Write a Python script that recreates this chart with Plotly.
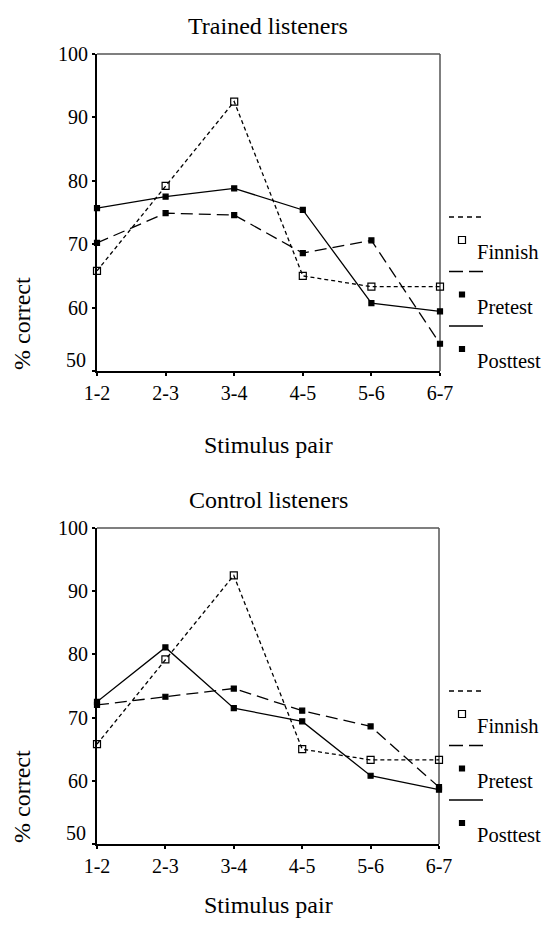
import plotly.graph_objects as go

# ---------------- data ----------------
pairs = ["1-2", "2-3", "3-4", "4-5", "5-6", "6-7"]
y_ticks = [50, 60, 70, 80, 90, 100]

trained_finnish = [65.8, 79.2, 92.5, 65.0, 63.3, 63.3]
trained_pretest = [70.2, 74.9, 74.6, 68.6, 70.6, 54.3]
trained_posttest = [75.7, 77.5, 78.8, 75.4, 60.7, 59.4]

control_finnish = [65.8, 79.2, 92.5, 65.0, 63.3, 63.3]
control_pretest = [72.0, 73.3, 74.6, 71.1, 68.6, 59.0]
control_posttest = [72.5, 81.1, 71.5, 69.4, 60.8, 58.6]

series_names = ["Finnish", "Pretest", "Posttest"]
panel_titles = ["Trained listeners", "Control listeners"]

W, H = 545, 926
FONT = "Liberation Serif"


def px(x):
    return x / W


def py(y):
    return 1 - y / H


fig = go.Figure()

styles = {
    "Finnish": dict(dash="4px,3px", leg_dash="5px,4px", symbol="square-open", msize=7),
    "Pretest": dict(dash="12px,6px", leg_dash="14px,6px", symbol="square", msize=5),
    "Posttest": dict(dash="solid", leg_dash="solid", symbol="square", msize=5),
}

panels = [
    ("x", "y", [trained_finnish, trained_pretest, trained_posttest]),
    ("x2", "y2", [control_finnish, control_pretest, control_posttest]),
]

for xa, ya, data in panels:
    for name, vals in zip(series_names, data):
        st = styles[name]
        fig.add_trace(go.Scatter(
            x=pairs, y=vals, xaxis=xa, yaxis=ya, mode="lines+markers",
            name=name, showlegend=False, cliponaxis=False,
            line=dict(color="black", width=1.3, dash=st["dash"]),
            marker=dict(symbol=st["symbol"], size=st["msize"], color="black",
                        line=dict(color="black", width=1.2)),
        ))

# plot areas in pixels: (left, right, top, bottom, x-title y)
areas = [(97, 440, 54, 371, 445), (97, 439, 528, 844, 905)]

axis_common = dict(
    showgrid=False, zeroline=False, showline=True, linecolor="black", linewidth=2,
    ticks="outside", ticklen=3, tickwidth=2, tickcolor="black", automargin=False,
    tickfont=dict(family=FONT, size=20, color="black"),
)


def txt(x, y, text, size, **kw):
    fig.add_annotation(xref="paper", yref="paper", x=px(x), y=py(y), text=text,
                       showarrow=False, yanchor="middle",
                       font=dict(family=FONT, size=size, color="black"), **kw)


for i, (l, r, t, b, xt) in enumerate(areas):
    sx = "" if i == 0 else "2"
    fig.layout["xaxis" + sx] = dict(
        axis_common, type="category", range=[0, 5],
        domain=[px(l), px(r)], anchor="y" + sx,
    )
    fig.layout["yaxis" + sx] = dict(
        axis_common, range=[50, 100], tickvals=y_ticks,
        ticktext=["" if v == 50 else str(v) for v in y_ticks],
        domain=[py(b), py(t)], anchor="x" + sx,
    )
    # gray top and right frame lines
    fig.add_shape(type="line", xref="x%s domain" % sx, yref="y%s domain" % sx,
                  x0=0, x1=1, y0=1, y1=1, line=dict(color="#555555", width=1.5),
                  layer="below")
    fig.add_shape(type="line", xref="x%s domain" % sx, yref="y%s domain" % sx,
                  x0=1, x1=1, y0=0, y1=1, line=dict(color="#555555", width=1.5),
                  layer="below")
    # raised "50" label
    fig.add_annotation(xref="x%s domain" % sx, yref="y" + sx, x=0, y=y_ticks[0],
                       text=str(y_ticks[0]), showarrow=False, xanchor="right",
                       yanchor="middle", xshift=-9, yshift=11,
                       font=dict(family=FONT, size=20, color="black"))
    txt(268, t - 28, panel_titles[i], 24, xanchor="center")
    txt(268, xt, "Stimulus pair", 24, xanchor="center")
    txt(22, b - 47, "% correct", 24, xanchor="center", textangle=-90)

    # legend
    leg_top = t + 163
    for k, name in enumerate(series_names):
        ly = leg_top + k * 54.5
        st = styles[name]
        fig.add_shape(type="line", xref="paper", yref="paper",
                      x0=px(449), x1=px(483), y0=py(ly), y1=py(ly),
                      line=dict(color="black", width=1.3, dash=st["leg_dash"]))
        ms = 3.5 if name == "Finnish" else 2.5
        fig.add_shape(type="rect", xref="paper", yref="paper",
                      x0=px(462 - ms), x1=px(462 + ms),
                      y0=py(ly + 23 - ms), y1=py(ly + 23 + ms),
                      line=dict(color="black", width=1.2),
                      fillcolor="white" if name == "Finnish" else "black")
        txt(475, ly + 35, name, 20.5, xanchor="left")

fig.update_layout(
    width=W, height=H, margin=dict(l=0, r=0, t=0, b=0, autoexpand=False),
    paper_bgcolor="white", plot_bgcolor="white", showlegend=False,
    font=dict(family=FONT, color="black"),
)

fig.write_html(
    "out.html",
    config={"displayModeBar": False},
    post_script="document.body.style.margin='0';document.body.style.overflow='hidden';",
)
